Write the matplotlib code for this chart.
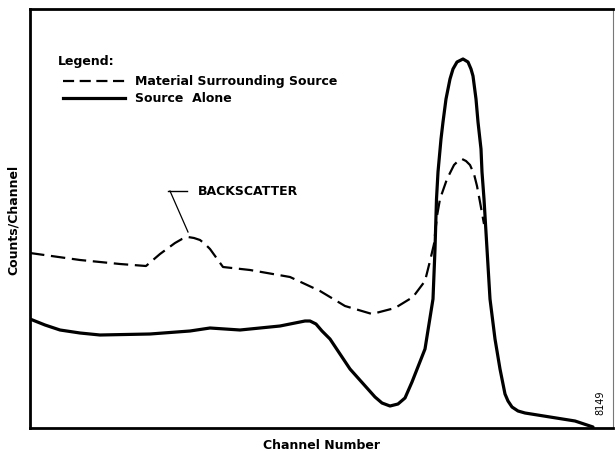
import numpy as np
import matplotlib
matplotlib.use("Agg")
import matplotlib.pyplot as plt

plt.rcParams['font.family'] = ['DejaVu Sans']

# channel number / counts (arbitrary units)
source_ch = [0, 15, 30, 50, 70, 120, 160, 180, 210, 250, 265, 275, 280, 286, 292, 300, 320,
             345, 352, 360, 368, 375, 382, 395, 403, 405, 406.5, 408, 411, 413, 416,
             420, 423, 427, 433, 438, 441, 443, 446, 448, 451, 452, 454, 457, 460,
             465, 470, 475, 478, 482, 488, 495, 520, 545, 563]
source_counts = [109, 103, 98, 95, 93, 94, 97, 100, 98, 102, 105, 107, 107, 104, 97, 89, 59,
                 31, 25, 22, 24, 30, 46, 79, 129, 179, 229, 256, 289, 306, 329,
                 349, 359, 366, 369, 366, 359, 352, 329, 306, 279, 256, 229, 179, 129,
                 89, 59, 34, 27, 21, 17, 15, 11, 7, 1]

material_ch = [0, 50, 90, 116, 130, 145, 152, 158, 164, 170, 175, 180, 193, 220, 260,
               290, 315, 342, 365, 383, 395, 400, 404, 407, 410, 417, 424, 428, 432,
               436, 440, 444, 447, 450, 454]
material_counts = [175, 168, 164, 162, 174, 185, 189, 191, 190, 188, 184, 179, 161, 158, 151,
                   137, 122, 114, 120, 131, 147, 167, 184, 212, 229, 249, 263, 267, 269,
                   267, 263, 254, 242, 226, 204]

fig = plt.figure(figsize=(6.15, 4.52), dpi=100)
ax = fig.add_axes([30/615, 1 - 429/452, 583/615, 419/452])
ax.set_xlim(0, 583)
ax.set_ylim(0, 419)

ax.plot(source_ch, source_counts, color='black', lw=2.3,
        solid_joinstyle='round', solid_capstyle='round')
ax.plot(material_ch, material_counts, color='black', lw=1.6, dashes=(6.5, 3))

# legend drawn by hand
ax.text(28, 367, 'Legend:', fontsize=9, fontweight='bold', va='center')
ax.plot([33, 95], [347, 347], color='black', lw=1.6, dashes=(5, 2.5))
ax.text(105, 347, 'Material Surrounding Source', fontsize=9, fontweight='bold', va='center')
ax.plot([33, 95], [330, 330], color='black', lw=2.3)
ax.text(105, 330, 'Source  Alone', fontsize=9, fontweight='bold', va='center')

# backscatter callout
ax.plot([138, 157], [237, 237], color='black', lw=1.0)
ax.plot([140, 158], [237, 196], color='black', lw=0.9)
ax.text(168, 237, 'BACKSCATTER', fontsize=9, fontweight='bold', va='center')

ax.text(570, 26, '8149', fontsize=7, rotation=90, ha='center', va='center')

ax.set_xticks([])
ax.set_yticks([])
ax.set_xlabel('Channel Number', fontsize=9, fontweight='bold', labelpad=7)
ax.set_ylabel('Counts/Channel', fontsize=9, fontweight='bold', labelpad=7)
for side in ['left', 'bottom', 'top']:
    ax.spines[side].set_linewidth(2)
ax.spines['right'].set_linewidth(0.8)
ax.spines['right'].set_color('#777777')

fig.savefig('out.png', dpi=100)
